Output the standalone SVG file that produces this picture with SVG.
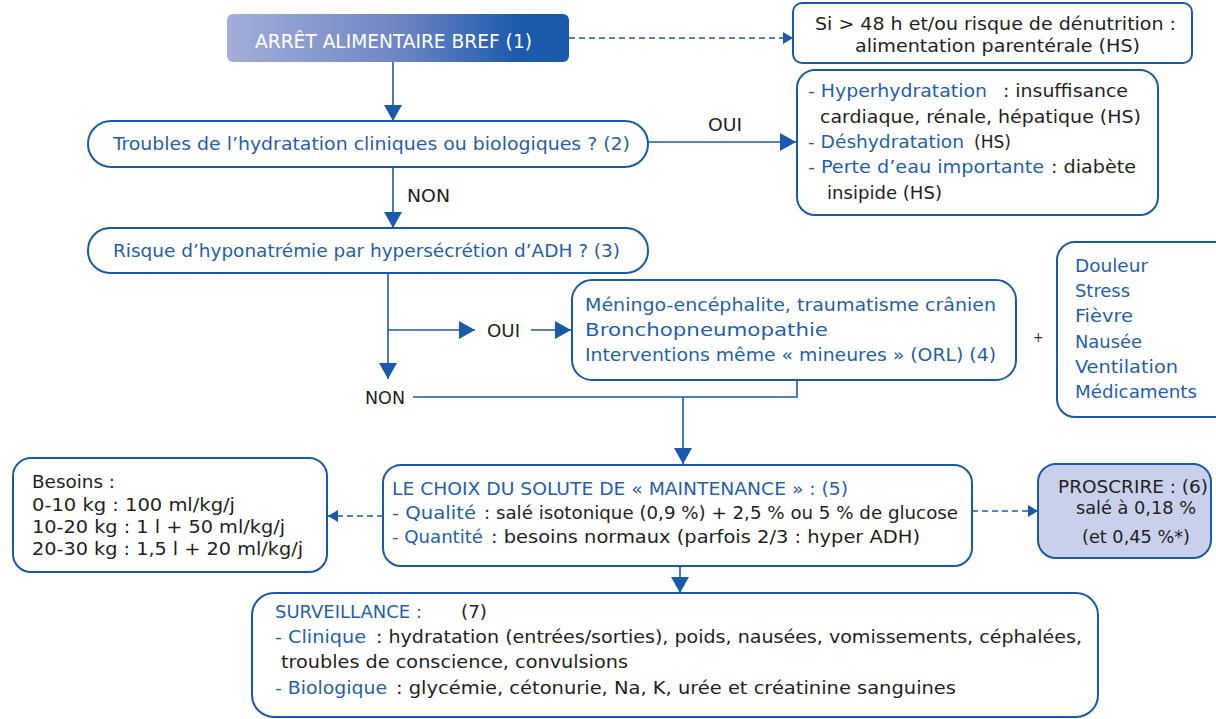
<svg xmlns="http://www.w3.org/2000/svg" width="1216" height="719" viewBox="0 0 1216 719">
<style>
text{font-family:"DejaVu Sans Condensed","DejaVu Sans","Liberation Sans",sans-serif;font-size:18px;fill:#231f20}
.b{fill:#1f5fae}
.w{fill:#ffffff;font-size:19px}
.box{fill:#ffffff;stroke:#1a5aab;stroke-width:2}
.pro{fill:#c8d0ec;stroke:#1a5aab;stroke-width:2}
.ln{fill:none;stroke:#1a5aab;stroke-width:1.6}
.dash{fill:none;stroke:#1a5aab;stroke-width:1.6;stroke-dasharray:6 4}
</style>
<defs>
<linearGradient id="g1" x1="0" y1="0" x2="1" y2="0">
<stop offset="0" stop-color="#a3aed9"/>
<stop offset="0.5" stop-color="#6f86c4"/>
<stop offset="0.85" stop-color="#1c5bab"/>
<stop offset="1" stop-color="#1a5aab"/>
</linearGradient>
<marker id="ah" markerUnits="userSpaceOnUse" markerWidth="18" markerHeight="20" refX="16" refY="9" orient="auto">
<path d="M0,0 L16,9 L0,18 Z" fill="#1a5aab"/>
</marker>
<marker id="ahs" markerUnits="userSpaceOnUse" markerWidth="12" markerHeight="14" refX="10" refY="6" orient="auto">
<path d="M0,0 L10,6 L0,12 Z" fill="#1a5aab"/>
</marker>
</defs>

<g id="connectors">
<line class="ln" x1="393" y1="62" x2="393" y2="121" marker-end="url(#ah)"/>
<line class="dash" x1="569" y1="38" x2="793" y2="38" marker-end="url(#ahs)"/>
<line class="ln" x1="648" y1="142" x2="796" y2="142" marker-end="url(#ah)"/>
<line class="ln" x1="393" y1="167" x2="393" y2="228" marker-end="url(#ah)"/>
<line class="ln" x1="388" y1="273" x2="388" y2="379" marker-end="url(#ah)"/>
<line class="ln" x1="388" y1="330" x2="475" y2="330" marker-end="url(#ah)"/>
<line class="ln" x1="531" y1="330" x2="571" y2="330" marker-end="url(#ah)"/>
<polyline class="ln" points="413,397 797,397 797,380"/>
<line class="ln" x1="683" y1="397" x2="683" y2="464" marker-end="url(#ah)"/>
<line class="ln" x1="680" y1="566" x2="680" y2="593" marker-end="url(#ah)"/>
<line class="dash" x1="383" y1="516" x2="328" y2="516" marker-end="url(#ahs)"/>
<line class="dash" x1="972" y1="511" x2="1038" y2="511" marker-end="url(#ahs)"/>
<text x="708" y="131" textLength="34" lengthAdjust="spacingAndGlyphs">OUI</text>
<text x="407" y="202" textLength="43" lengthAdjust="spacingAndGlyphs">NON</text>
<text x="487" y="337" textLength="33" lengthAdjust="spacingAndGlyphs">OUI</text>
<text x="365" y="404" textLength="40" lengthAdjust="spacingAndGlyphs">NON</text>
<text x="1033" y="342" style="font-size:14px;fill:#333333">+</text>
</g>

<g id="n1">
<rect x="227" y="14" width="342" height="48" rx="6" fill="url(#g1)"/>
<text class="w" x="255" y="48" textLength="277" lengthAdjust="spacingAndGlyphs">ARRÊT ALIMENTAIRE BREF (1)</text>
</g>

<g id="n_si">
<rect class="box" x="793" y="3" width="399" height="60" rx="9"/>
<text x="815" y="30" textLength="361" lengthAdjust="spacingAndGlyphs">Si &gt; 48 h et/ou risque de dénutrition :</text>
<text x="855" y="52" textLength="285" lengthAdjust="spacingAndGlyphs">alimentation parentérale (HS)</text>
</g>

<g id="n_troubles">
<rect class="box" x="88" y="121" width="560" height="46" rx="23"/>
<text class="b" x="113" y="150" textLength="517" lengthAdjust="spacingAndGlyphs">Troubles de l’hydratation cliniques ou biologiques ? (2)</text>
</g>

<g id="n_hyper">
<rect class="box" x="797" y="70" width="361" height="145" rx="18"/>
<text class="b" x="808" y="97" textLength="179" lengthAdjust="spacingAndGlyphs">- Hyperhydratation</text>
<text x="1003" y="97" textLength="125" lengthAdjust="spacingAndGlyphs">: insuffisance</text>
<text x="820" y="123" textLength="321" lengthAdjust="spacingAndGlyphs">cardiaque, rénale, hépatique (HS)</text>
<text class="b" x="808" y="148" textLength="156" lengthAdjust="spacingAndGlyphs">- Déshydratation</text>
<text x="974" y="148" textLength="37" lengthAdjust="spacingAndGlyphs">(HS)</text>
<text class="b" x="808" y="173" textLength="236" lengthAdjust="spacingAndGlyphs">- Perte d’eau importante</text>
<text x="1051" y="173" textLength="85" lengthAdjust="spacingAndGlyphs">: diabète</text>
<text x="827" y="199" textLength="115" lengthAdjust="spacingAndGlyphs">insipide (HS)</text>
</g>

<g id="n_risque">
<rect class="box" x="88" y="228" width="560" height="45" rx="22"/>
<text class="b" x="113" y="257" textLength="507" lengthAdjust="spacingAndGlyphs">Risque d’hyponatrémie par hypersécrétion d’ADH ? (3)</text>
</g>

<g id="n_meningo">
<rect class="box" x="572" y="280" width="444" height="100" rx="20"/>
<text class="b" x="585" y="311" textLength="411" lengthAdjust="spacingAndGlyphs">Méningo-encéphalite, traumatisme crânien</text>
<text class="b" x="585" y="336" textLength="243" lengthAdjust="spacingAndGlyphs">Bronchopneumopathie</text>
<text class="b" x="585" y="361" textLength="411" lengthAdjust="spacingAndGlyphs">Interventions même « mineures » (ORL) (4)</text>
</g>

<g id="n_facteurs">
<rect class="box" x="1057" y="242" width="180" height="175" rx="18"/>
<text class="b" x="1075" y="272" textLength="73" lengthAdjust="spacingAndGlyphs">Douleur</text>
<text class="b" x="1075" y="297" textLength="55" lengthAdjust="spacingAndGlyphs">Stress</text>
<text class="b" x="1075" y="322" textLength="58" lengthAdjust="spacingAndGlyphs">Fièvre</text>
<text class="b" x="1075" y="348" textLength="67" lengthAdjust="spacingAndGlyphs">Nausée</text>
<text class="b" x="1075" y="373" textLength="103" lengthAdjust="spacingAndGlyphs">Ventilation</text>
<text class="b" x="1075" y="398" textLength="122" lengthAdjust="spacingAndGlyphs">Médicaments</text>
</g>

<g id="n_besoins">
<rect class="box" x="13" y="458" width="314" height="114" rx="18"/>
<text x="32" y="488" textLength="83" lengthAdjust="spacingAndGlyphs">Besoins :</text>
<text x="32" y="511" textLength="203" lengthAdjust="spacingAndGlyphs">0-10 kg : 100 ml/kg/j</text>
<text x="32" y="533" textLength="253" lengthAdjust="spacingAndGlyphs">10-20 kg : 1 l + 50 ml/kg/j</text>
<text x="32" y="555" textLength="271" lengthAdjust="spacingAndGlyphs">20-30 kg : 1,5 l + 20 ml/kg/j</text>
</g>

<g id="n_maintenance">
<rect class="box" x="383" y="465" width="589" height="101" rx="18"/>
<text class="b" x="392" y="495" textLength="456" lengthAdjust="spacingAndGlyphs">LE CHOIX DU SOLUTE DE « MAINTENANCE » : (5)</text>
<text class="b" x="392" y="519" textLength="84" lengthAdjust="spacingAndGlyphs">- Qualité</text>
<text x="484" y="519" textLength="474" lengthAdjust="spacingAndGlyphs">: salé isotonique (0,9 %)  + 2,5 % ou 5 % de glucose</text>
<text class="b" x="392" y="543" textLength="91" lengthAdjust="spacingAndGlyphs">- Quantité</text>
<text x="491" y="543" textLength="429" lengthAdjust="spacingAndGlyphs">: besoins normaux (parfois 2/3 : hyper ADH)</text>
</g>

<g id="n_proscrire">
<rect class="pro" x="1038" y="464" width="173" height="94" rx="18"/>
<text x="1058" y="493" textLength="150" lengthAdjust="spacingAndGlyphs">PROSCRIRE : (6)</text>
<text x="1076" y="514" textLength="120" lengthAdjust="spacingAndGlyphs">salé à 0,18 %</text>
<text x="1082" y="543" textLength="108" lengthAdjust="spacingAndGlyphs">(et 0,45 %*)</text>
</g>

<g id="n_surveillance">
<rect class="box" x="252" y="593" width="846" height="124" rx="22"/>
<text class="b" x="275" y="618" textLength="147" lengthAdjust="spacingAndGlyphs">SURVEILLANCE :</text>
<text x="461" y="618" textLength="26" lengthAdjust="spacingAndGlyphs">(7)</text>
<text class="b" x="275" y="643" textLength="91" lengthAdjust="spacingAndGlyphs">- Clinique</text>
<text x="376" y="643" textLength="706" lengthAdjust="spacingAndGlyphs">: hydratation (entrées/sorties), poids, nausées, vomissements, céphalées,</text>
<text x="281" y="668" textLength="347" lengthAdjust="spacingAndGlyphs">troubles de conscience, convulsions</text>
<text class="b" x="275" y="694" textLength="112" lengthAdjust="spacingAndGlyphs">- Biologique</text>
<text x="396" y="694" textLength="560" lengthAdjust="spacingAndGlyphs">: glycémie, cétonurie, Na, K, urée et créatinine sanguines</text>
</g>
</svg>
